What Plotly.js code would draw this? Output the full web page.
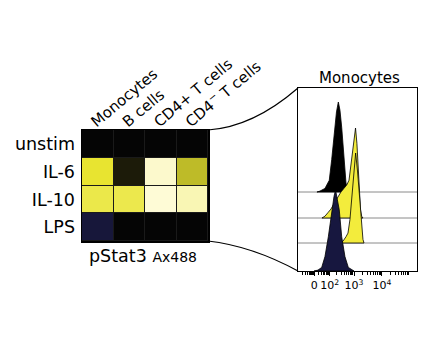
<!DOCTYPE html>
<html><head><meta charset="utf-8">
<script src="https://cdn.plot.ly/plotly-3.0.1.min.js"></script>
<style>html,body{margin:0;padding:0;background:#fff}</style>
</head><body><div id="chart" style="width:437px;height:356px"></div>
<script>
// ---------- Heatmap data ----------
const cellTypes = ["Monocytes", "B cells", "CD4+ T cells", "CD4<sup>−</sup> T cells"];
const stimuli = ["unstim", "IL-6", "IL-10", "LPS"];
// relative pStat3 change (negative = decrease, 0 = none, 1 = max increase)
const zUnstim = [0, 0, 0, 0];
const zIL6    = [0.60, 0.06, 0.955, 0.49];
const zIL10   = [0.66, 0.665, 0.977, 0.90];
const zLPS    = [-0.34, 0, 0, 0];

// ---------- Histogram data (Monocytes, pStat3 Ax488) ----------
// x: display channel (0-1024), y: % of mode
const unstimX = [163,189,232,269,290,318,331,347,361,376,396,413,430,447];
const unstimY = [0,1,4,13,36,72,89,100,91,72,36,10,1,0];
const il6X = [206,232,258,284,310,335,370,396,421,439,452,470,482,495,507,516,527,538,548,559];
const il6Y = [0,2,6,10,16,22,29,33,37,42,56,72,83,100,83,61,28,9,2,0];
const il10X = [361,387,413,430,447,464,482,496,512,525,538,546,553,559,568];
const il10Y = [0,2,7,11,26,50,80,100,80,56,39,29,13,4,0];
const lpsX = [138,172,204,232,261,290,310,323,335,355,376,404,433,462,482];
const lpsY = [0,1,4,16,38,68,83,90,83,68,38,16,4,1,0];
const histTickVals = [140, 272, 482, 722];
const histTickText = ["0", "10<sup>2</sup>", "10<sup>3</sup>", "10<sup>4</sup>"];

// ---------- Layout helpers ----------
const W = 437, H = 356;
const px = v => v / W, py = v => 1 - v / H;
const F = "DejaVu Sans, Arial, sans-serif";

const heat = {
  type: "heatmap",
  x: cellTypes, y: stimuli,
  z: [zUnstim, zIL6, zIL10, zLPS],
  zmin: -1, zmax: 1,
  colorscale: [[0, "#3a3aa0"], [0.5, "#050505"], [0.8, "#e8e430"], [1, "#fffce0"]],
  showscale: false, xgap: 1, ygap: 1,
  xaxis: "x", yaxis: "y", hoverinfo: "skip"
};

// stacked offsets (vertical spacing of the overlay panels)
const panels = [
  {x: unstimX, y: unstimY, off: 79, fill: "#000000", scale: 0.9},
  {x: il6X, y: il6Y, off: 53, fill: "#f3ec3c", scale: 0.9},
  {x: il10X, y: il10Y, off: 28, fill: "#f3ec3c", scale: 0.9},
  {x: lpsX, y: lpsY, off: 0, fill: "#17173f", scale: 0.9}
];
const histTraces = panels.map(p => ({
  type: "scatter", mode: "lines",
  x: p.x.concat([p.x[p.x.length - 1], p.x[0]]),
  y: p.y.map(v => p.off + v * p.scale).concat([p.off, p.off]),
  fill: "toself", fillcolor: p.fill,
  line: {color: "#000", width: 0.8},
  xaxis: "x2", yaxis: "y2", hoverinfo: "skip", showlegend: false
}));

// minor tick marks (log decades)
const minorVals = [];
const decadeEdges = [[0, 140], [140, 272], [272, 482], [482, 722], [722, 962]];
decadeEdges.forEach(([a, b]) => {
  for (let k = 2; k <= 9; k++) {
    const pos = a + (b - a) * Math.log10(k);
    if (pos < 1020) minorVals.push(pos);
  }
});

const shapes = [
  {type: "rect", xref: "x", yref: "y", x0: -0.5, x1: 3.5, y0: -0.5, y1: 3.5,
   fillcolor: "#1a1a1a", line: {width: 0}, layer: "below"},
  ...[79, 53, 28].map(o => ({type: "line", xref: "x2 domain", yref: "y2", x0: 0, x1: 1, y0: o, y1: o,
   line: {color: "#8a8a8a", width: 1}, layer: "below"})),
  {type: "path", xref: "paper", yref: "paper",
   path: `M ${px(208)},${py(130)} Q ${px(253)},${py(127)} ${px(298)},${py(88)}`,
   line: {color: "#000", width: 1.2}},
  {type: "path", xref: "paper", yref: "paper",
   path: `M ${px(208)},${py(241)} Q ${px(252)},${py(246)} ${px(298)},${py(271)}`,
   line: {color: "#000", width: 1.2}}
];

const layout = {
  width: W, height: H,
  margin: {l: 0, r: 0, t: 0, b: 0},
  paper_bgcolor: "#fff", plot_bgcolor: "#fff",
  font: {family: F, color: "#000"},
  showlegend: false,
  xaxis: {domain: [px(82), px(208)], anchor: "y", side: "top", tickangle: -40,
    tickfont: {size: 15, family: F}, ticks: "", ticklabelstandoff: -7, ticklabelshift: -6,
    showgrid: false, zeroline: false,
    showline: true, mirror: true, linecolor: "#000", linewidth: 1.5, fixedrange: true},
  yaxis: {domain: [py(241), py(130)], anchor: "x", autorange: "reversed",
    tickfont: {size: 17.5, family: F}, ticks: "", ticklabelstandoff: 2, showgrid: false, zeroline: false,
    showline: true, mirror: true, linecolor: "#000", linewidth: 1.5, fixedrange: true},
  xaxis2: {domain: [px(298), px(417)], anchor: "y2", range: [0, 1024],
    tickmode: "array", tickvals: histTickVals, ticktext: histTickText, tickangle: 0,
    ticks: "outside", ticklen: 4, tickwidth: 1, tickcolor: "#000",
    minor: {tickmode: "array", tickvals: minorVals, ticks: "outside", ticklen: 2.5, tickwidth: 1, tickcolor: "#000"},
    tickfont: {size: 11, family: F}, showgrid: false, zeroline: false,
    showline: true, mirror: true, linecolor: "#000", linewidth: 1},
  yaxis2: {domain: [py(271), py(88)], anchor: "x2", range: [0, 183],
    showticklabels: false, ticks: "", showgrid: false, zeroline: false,
    showline: true, mirror: true, linecolor: "#000", linewidth: 1},
  shapes: shapes,
  annotations: [
    {xref: "paper", yref: "paper", x: px(359), y: py(78), text: "Monocytes",
     showarrow: false, font: {size: 15, family: F}, xanchor: "center", yanchor: "middle"},
    {xref: "paper", yref: "paper", x: px(143), y: py(256),
     text: "pStat3 <span style='font-size:14px'>Ax488</span>",
     showarrow: false, font: {size: 17.5, family: F}, xanchor: "center", yanchor: "middle"}
  ]
};

Plotly.newPlot("chart", [heat, ...histTraces], layout, {displayModeBar: false, staticPlot: true});
</script>
</body></html>
